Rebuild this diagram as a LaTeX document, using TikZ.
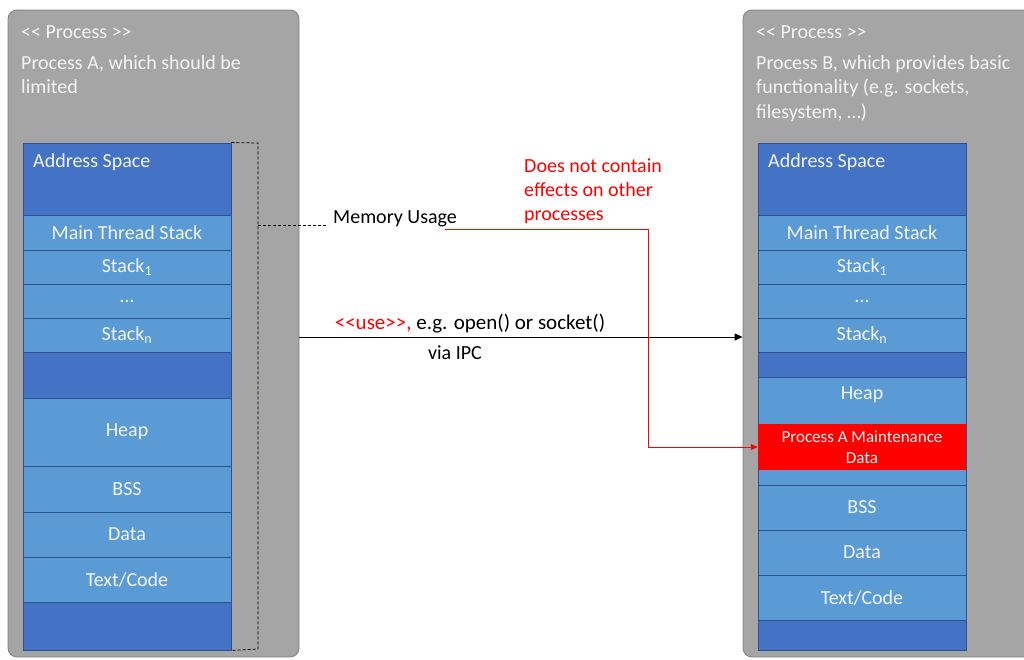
\documentclass[tikz,border=0pt]{standalone}
\usepackage{fontspec}
\setmainfont{Carlito}
\usetikzlibrary{arrows.meta}
\definecolor{procgray}{HTML}{A5A5A5}
\definecolor{procedge}{HTML}{7F7F7F}
\definecolor{darkblue}{HTML}{4472C4}
\definecolor{lightblue}{HTML}{5B9BD5}
\definecolor{rowedge}{HTML}{2F528F}
\definecolor{txtwhite}{HTML}{F4F4F4}
\newcommand{\dlt}{<\kern0pt<}
\newcommand{\dgt}{>\kern0pt>}
\tikzset{
  procbox/.style={draw=procedge, fill=procgray, rounded corners=9pt, line width=0.8pt, minimum height=647pt, minimum width=#1, inner sep=0pt},
  row/.style={draw=rowedge, line width=0.9pt, minimum width=208pt, minimum height=#1, inner sep=0pt, text=txtwhite, font=\fontsize{20}{24}\selectfont},
  lrow/.style={row=#1, fill=lightblue},
  drow/.style={row=#1, fill=darkblue},
  wtxt/.style={text=txtwhite, font=\fontsize{20}{24.5}\selectfont, align=left, inner sep=0pt},
  btxt/.style={text=black, font=\fontsize{20}{24.5}\selectfont, inner sep=0pt},
  rtxt/.style={text=red, font=\fontsize{20}{24}\selectfont, align=left, inner sep=0pt},
}
\begin{document}
\begin{tikzpicture}[x=1pt,y=-1pt]
\useasboundingbox (0,0) rectangle (1024,659);
% process boxes
\node[procbox=291pt] (pA) at (153.5,333.5) {};
\node[procbox=292pt] (pB) at (889,333.5) {};
% process texts
\node[wtxt, anchor=base west] (stA) at (21,38) {\dlt{} Process \dgt};
\node[wtxt, anchor=north west] (dA) at (21,55) {Process A, which should be\\limited};
\node[wtxt, anchor=base west] (stB) at (756,38) {\dlt{} Process \dgt};
\node[wtxt, anchor=north west] (dB) at (756,55) {Process B, which provides basic\\functionality (e.g. sockets,\\filesystem, …)};
% left stack
\node[drow=72pt] (aAS) at (127,179) {};
\node[wtxt, anchor=base west] (aASt) at (33,167) {Address Space};
\node[lrow=35pt] (aMT) at (127,232.5) {Main Thread Stack};
\node[lrow=34pt] (aS1) at (127,267) {Stack\textsubscript{1}};
\node[lrow=34pt] (aDots) at (127,301) {…};
\node[lrow=34pt] (aSn) at (127,335) {Stack\textsubscript{n}};
\node[drow=46pt] (aGap) at (127,375) {};
\node[lrow=68pt] (aHeap) at (127,432) {Heap};
\node[lrow=46pt] (aBSS) at (127,489) {BSS};
\node[lrow=45pt] (aData) at (127,534.5) {Data};
\node[lrow=45pt] (aText) at (127,579.5) {Text/Code};
\node[drow=48pt] (aEnd) at (127,626) {};
% right stack
\node[drow=72pt] (bAS) at (862,179) {};
\node[wtxt, anchor=base west] (bASt) at (768,167) {Address Space};
\node[lrow=35pt] (bMT) at (862,232.5) {Main Thread Stack};
\node[lrow=34pt] (bS1) at (862,267) {Stack\textsubscript{1}};
\node[lrow=34pt] (bDots) at (862,301) {…};
\node[lrow=34pt] (bSn) at (862,335) {Stack\textsubscript{n}};
\node[drow=25pt] (bGap) at (862,364.5) {};
\node[lrow=108pt] (bHeap) at (862,431) {};
\node[wtxt] (bHeapt) at (862,395) {Heap};
\node[fill=red, minimum width=208pt, minimum height=46pt, inner sep=0pt, text=txtwhite, align=center, font=\fontsize{17}{21}\selectfont] (bRed) at (862,447) {Process A Maintenance\\Data};
\node[lrow=45pt] (bBSS) at (862,507.5) {BSS};
\node[lrow=45pt] (bData) at (862,552.5) {Data};
\node[lrow=45pt] (bText) at (862,597.5) {Text/Code};
\node[drow=30pt] (bEnd) at (862,635) {};
% memory usage bracket
\coordinate (k1) at (258,143);
\coordinate (k2) at (258,649);
\coordinate (brk) at (258,225);
\node[btxt, anchor=west] (mem) at (333,219) {Memory Usage};
\draw[line width=0.8pt, dash pattern=on 3pt off 2pt] (aAS.north east) -- (k1) -- (k2) -- (aEnd.south east);
\draw[line width=0.8pt, dash pattern=on 3pt off 2pt] (brk) -- ([xshift=-5pt]mem.west |- brk);
% use arrow
\draw[line width=0.9pt, -{Triangle[length=8pt,width=7pt]}] ([yshift=-3.5pt]pA.east) -- ([yshift=-3.5pt]pB.west);
\node[btxt, anchor=base, font=\fontsize{21}{24.5}\selectfont] (use) at (470,329) {\textcolor{red}{\dlt use\dgt,} e.g. open() or socket()};
\node[btxt, anchor=base] (ipc) at (455,359) {via IPC};
% red effect note
\node[rtxt, anchor=north west] (note) at (524,159) {Does not contain\\effects on other\\processes};
\coordinate (r0) at (445,229);
\coordinate (r1) at (648,229);
\draw[red, line width=0.9pt, -{Triangle[length=7pt,width=6pt]}] (r0) -- (r1) |- (bRed.west);
\end{tikzpicture}
\end{document}
